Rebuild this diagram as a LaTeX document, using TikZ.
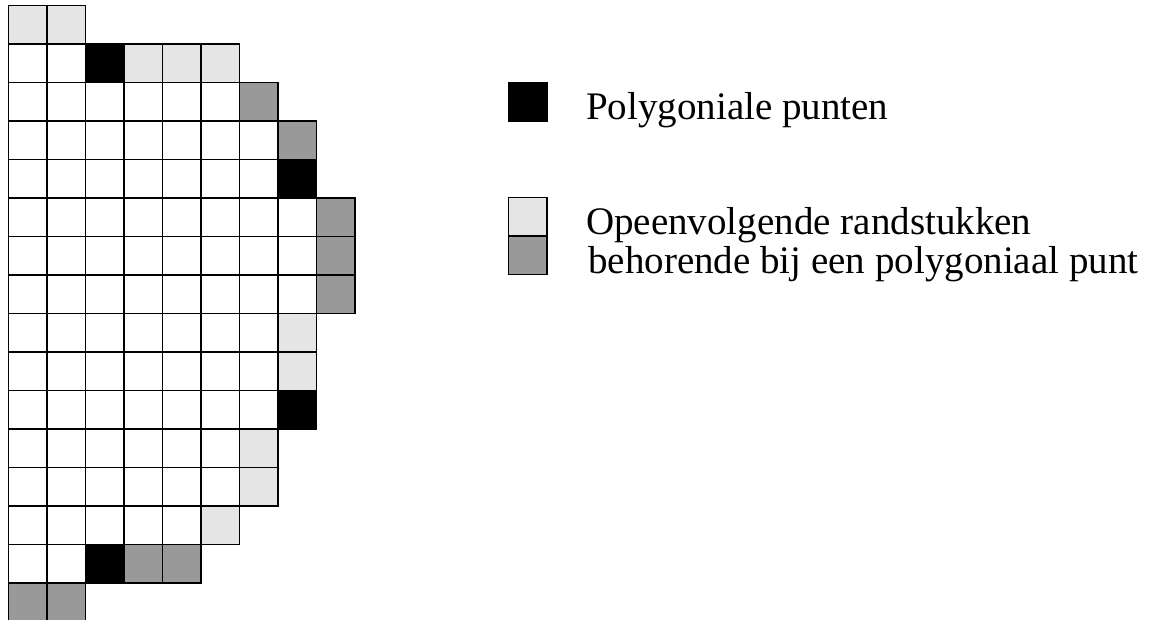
\documentclass[tikz,border=0pt]{standalone}
\usepackage{fontspec}
\setmainfont{Liberation Serif}
% cell fills
\definecolor{cw}{gray}{1}
\definecolor{cl}{gray}{0.9}
\definecolor{cd}{gray}{0.6}
\definecolor{cb}{gray}{0}
\begin{document}
\begin{tikzpicture}[x=1pt,y=-1pt,
  cellbox/.style={draw=black,line width=1.2pt},
  legsq/.style={draw=black,line width=1.2pt,minimum size=38.5pt,inner sep=0pt,outer sep=0pt},
  legendtext/.style={anchor=base west,inner sep=0pt,font=\fontsize{39}{39}\selectfont}]
\useasboundingbox (0,0) rectangle (1149,620);
\def\cs{38.5}
% pixel grid, row by row from the top
\foreach \r/\row in {
  0/{cl,cl},
  1/{cw,cw,cb,cl,cl,cl},
  2/{cw,cw,cw,cw,cw,cw,cd},
  3/{cw,cw,cw,cw,cw,cw,cw,cd},
  4/{cw,cw,cw,cw,cw,cw,cw,cb},
  5/{cw,cw,cw,cw,cw,cw,cw,cw,cd},
  6/{cw,cw,cw,cw,cw,cw,cw,cw,cd},
  7/{cw,cw,cw,cw,cw,cw,cw,cw,cd},
  8/{cw,cw,cw,cw,cw,cw,cw,cl},
  9/{cw,cw,cw,cw,cw,cw,cw,cl},
  10/{cw,cw,cw,cw,cw,cw,cw,cb},
  11/{cw,cw,cw,cw,cw,cw,cl},
  12/{cw,cw,cw,cw,cw,cw,cl},
  13/{cw,cw,cw,cw,cw,cl},
  14/{cw,cw,cb,cd,cd},
  15/{cd,cd}}{
  \foreach \k [count=\c from 0] in \row {
    \draw[cellbox,fill=\k] ({8.5+\c*\cs},{5.5+\r*\cs}) rectangle +(\cs,\cs);
  }
}
% legend
\node[legsq,fill=cb] (keypoly) at (527.75,101.75) {};
\node[legsq,fill=cl] (keylight) at (527.75,216.75) {};
\node[legsq,fill=cd] (keydark) at (527.75,255.25) {};
\node[legendtext] (labpoly) at (586,119.5) {Polygoniale punten};
\node[legendtext] (labrandA) at (586,235) {Opeenvolgende randstukken};
\node[legendtext] (labrandB) at (588,274) {behorende bij een polygoniaal punt};
\end{tikzpicture}
\end{document}
